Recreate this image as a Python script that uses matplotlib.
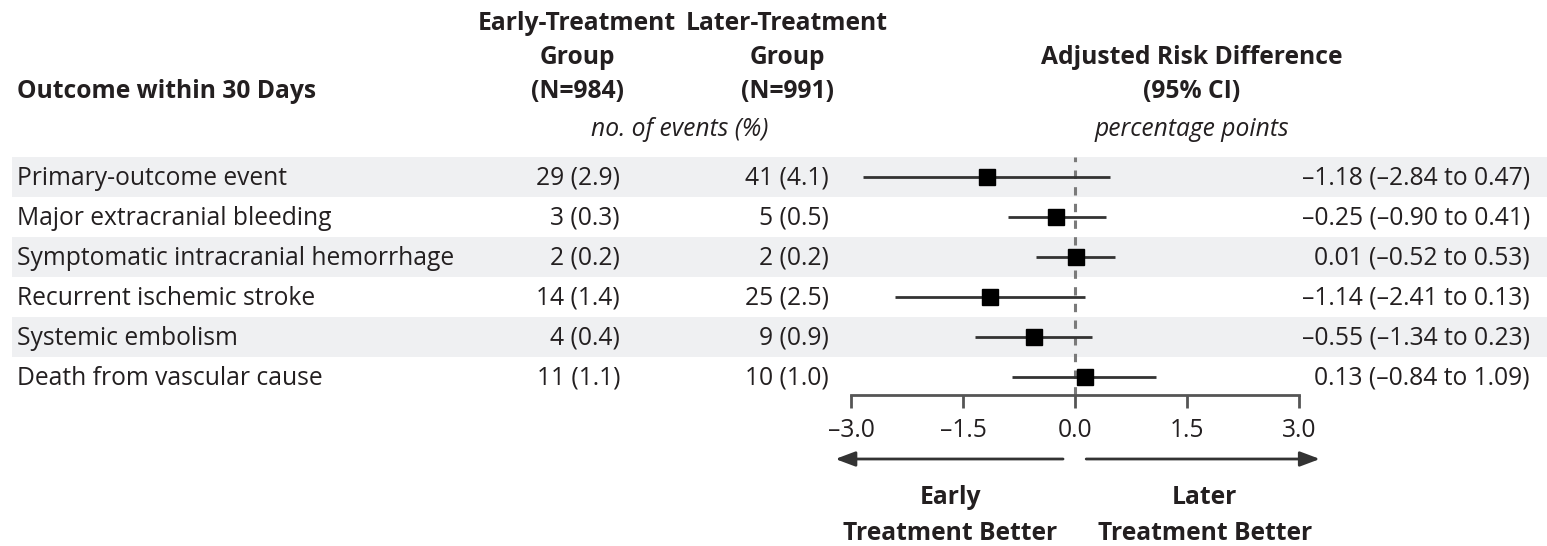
import matplotlib
matplotlib.use("Agg")
import matplotlib.pyplot as plt
from matplotlib import transforms

# ---- data ----
outcomes = [
    "Primary-outcome event",
    "Major extracranial bleeding",
    "Symptomatic intracranial hemorrhage",
    "Recurrent ischemic stroke",
    "Systemic embolism",
    "Death from vascular cause",
]
early_events = [29, 3, 2, 14, 4, 11]
early_pct = [2.9, 0.3, 0.2, 1.4, 0.4, 1.1]
later_events = [41, 5, 2, 25, 9, 10]
later_pct = [4.1, 0.5, 0.2, 2.5, 0.9, 1.0]
risk_diff = [-1.18, -0.25, 0.01, -1.14, -0.55, 0.13]
ci_low = [-2.84, -0.90, -0.52, -2.41, -1.34, -0.84]
ci_high = [0.47, 0.41, 0.53, 0.13, 0.23, 1.09]
x_ticks = [-3.0, -1.5, 0.0, 1.5, 3.0]
x_ticklabels = ["\u20133.0", "\u20131.5", "0.0", "1.5", "3.0"]

TEXT = "#231f20"
BAND = "#eff0f2"
FONT = "Open Sans"
FS = 17.7

plt.rcParams["font.family"] = [FONT, "DejaVu Sans"]
plt.rcParams["lines.scale_dashes"] = False

W, H = 1547, 546
fig = plt.figure(figsize=(W / 100, H / 100), dpi=100)

# background axes: x in pixels, y in row units (row i centred at 177 + 40*i px)
ROW0, ROWH = 177.0, 40.0
bg = fig.add_axes([0, 0, 1, 1])
bg.set_xlim(0, W)
bg.set_ylim((H - ROW0) / ROWH, -ROW0 / ROWH)
bg.axis("off")


def row(px):
    return (px - ROW0) / ROWH


def fmt(v):
    return f"{v:.2f}".replace("-", "\u2013")


n = len(outcomes)
for i in range(0, n, 2):
    bg.axhspan(i - 0.5, i + 0.5, xmin=12 / W, xmax=1, color=BAND, lw=0, zorder=0)

# header
hdr = dict(fontsize=FS, fontweight="bold", color=TEXT, va="center")
bg.text(17, row(91), "Outcome within 30 Days", ha="left", **hdr)
for cx, lines in [(577, ["Early-Treatment", "Group", "(N=984)"]),
                  (787, ["Later-Treatment", "Group", "(N=991)"]),
                  (1192, [None, "Adjusted Risk Difference", "(95% CI)"])]:
    for y, s in zip([23, 57, 91], lines):
        if s:
            bg.text(cx, row(y), s, ha="center", **hdr)
bg.text(680, row(129), "no. of events (%)", ha="center", va="center",
        fontsize=FS, style="italic", color=TEXT)
bg.text(1192, row(129), "percentage points", ha="center", va="center",
        fontsize=FS, style="italic", color=TEXT)

# table body
for i in range(n):
    y = i + 0.03
    bg.text(17, y, outcomes[i], ha="left", va="center", fontsize=FS, color=TEXT)
    bg.text(620, y, f"{early_events[i]} ({early_pct[i]:.1f})", ha="right",
            va="center", fontsize=FS, color=TEXT)
    bg.text(829, y, f"{later_events[i]} ({later_pct[i]:.1f})", ha="right",
            va="center", fontsize=FS, color=TEXT)
    bg.text(1530, y, f"{fmt(risk_diff[i])} ({fmt(ci_low[i])} to {fmt(ci_high[i])})",
            ha="right", va="center", fontsize=FS, color=TEXT)

# forest axes: -3..3 spans 851..1299 px, axis line at 395 px
x0, x1, top, axis_y = 851, 1299, 157, 395
fx = fig.add_axes([x0 / W, 1 - axis_y / H, (x1 - x0) / W, (axis_y - top) / H])
fx.patch.set_visible(False)
fx.set_xlim(-3, 3)
fx.set_ylim(row(axis_y), row(top))
for side in ["top", "left", "right"]:
    fx.spines[side].set_visible(False)
fx.spines["bottom"].set_color("#555555")
fx.spines["bottom"].set_linewidth(2)
fx.set_yticks([])
fx.set_xticks(x_ticks)
fx.set_xticklabels(x_ticklabels, fontsize=FS, color=TEXT)
fx.tick_params(axis="x", direction="out", length=9.5, width=2, color="#555555", pad=7)

fx.axvline(0, color="#7a7a7a", lw=2.2, linestyle=(0, (6, 6)), zorder=1)
for i in range(n):
    fx.plot([ci_low[i], ci_high[i]], [i, i], color="#333333", lw=2, zorder=2,
            solid_capstyle="butt")
    fx.plot(risk_diff[i], i, marker="s", color="black", markersize=11.5, zorder=3)

# direction arrows and captions
tr = transforms.blended_transform_factory(fx.transData, bg.transData)
arrow_y = row(459)
for tail, tip in [(-0.16, -3.21), (0.15, 3.28)]:
    bg.annotate("", xy=(tip, arrow_y), xytext=(tail, arrow_y), xycoords=tr,
                textcoords=tr, annotation_clip=False,
                arrowprops=dict(arrowstyle="-|>,head_length=1.2,head_width=0.45",
                                color="#333333", lw=2, shrinkA=0, shrinkB=0))
for cx, word in [(-1.67, "Early"), (1.74, "Later")]:
    bg.text(cx, row(498), word, transform=tr, ha="center", va="center",
            fontsize=FS, fontweight="bold", color=TEXT)
    bg.text(cx, row(533), "Treatment Better", transform=tr, ha="center",
            va="center", fontsize=FS, fontweight="bold", color=TEXT)

fig.savefig("out.png", dpi=100)
